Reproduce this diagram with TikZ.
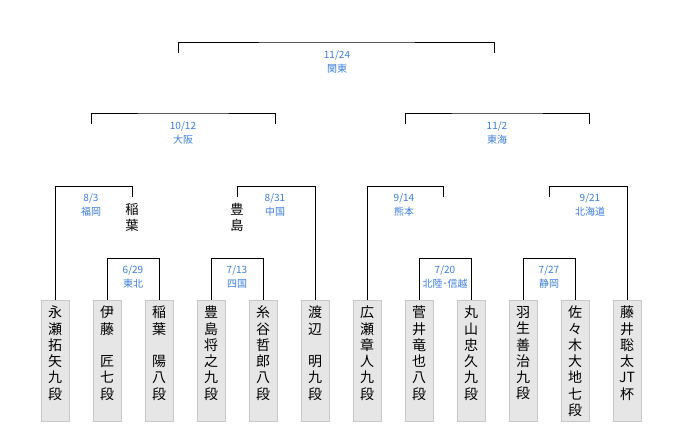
\documentclass[tikz,border=0pt]{standalone}
\usepackage{fontspec}
\setmainfont{Noto Sans CJK JP}
\definecolor{lbl}{RGB}{60,125,220}
\definecolor{boxfill}{RGB}{230,230,230}
\definecolor{boxline}{RGB}{200,200,200}
\begin{document}
\begin{tikzpicture}[x=0.75pt,y=-0.75pt,
  player/.style={draw=boxline,fill=boxfill,minimum width=21pt,minimum height=90.75pt,anchor=north,inner sep=0pt,align=center,font=\fontsize{10.5}{12.2}\selectfont,text depth=0pt},
  lab/.style={text=lbl,font=\fontsize{7.5}{10}\selectfont,align=center,inner sep=0pt},
  win/.style={font=\fontsize{10}{12}\selectfont,align=center,inner sep=0pt},
  br/.style={draw=black,line width=0.75pt}]
\useasboundingbox (0,0) rectangle (680,430);
% players
\node[player] (p1) at (55,300) {永\\瀬\\拓\\矢\\九\\段\\~};
\node[player] (p2) at (107,300) {伊\\藤\\　\\匠\\七\\段\\~};
\node[player] (p3) at (159,300) {稲\\葉\\　\\陽\\八\\段\\~};
\node[player] (p4) at (211,300) {豊\\島\\将\\之\\九\\段\\~};
\node[player] (p5) at (263,300) {糸\\谷\\哲\\郎\\八\\段\\~};
\node[player] (p6) at (315,300) {渡\\辺\\　\\明\\九\\段\\~};
\node[player] (p7) at (367,300) {広\\瀬\\章\\人\\九\\段\\~};
\node[player] (p8) at (419,300) {菅\\井\\竜\\也\\八\\段\\~};
\node[player] (p9) at (471,300) {丸\\山\\忠\\久\\九\\段\\~};
\node[player] (p10) at (523,300) {羽\\生\\善\\治\\九\\段\\~};
\node[player] (p11) at (575,300) {佐\\々\\木\\大\\地\\七\\段};
\node[player] (p12) at (627,300) {藤\\井\\聡\\太\\JT\\杯\\~};
% round 1
\coordinate (a1) at (133,258);
\draw[br] (p2.north) |- (a1) -| (p3.north);
\node[lab] (l1) at (133,277) {6/29\\東北};
\coordinate (a2) at (237,258);
\draw[br] (p4.north) |- (a2) -| (p5.north);
\node[lab] (l2) at (237,277) {7/13\\四国};
\coordinate (a3) at (445,258);
\draw[br] (p8.north) |- (a3) -| (p9.north);
\node[lab] (l3) at (445,277) {7/20\\北陸･信越};
\coordinate (a4) at (549,258);
\draw[br] (p10.north) |- (a4) -| (p11.north);
\node[lab] (l4) at (549,277) {7/27\\静岡};
% round 2
\coordinate (b1) at (132,197);
\draw[br] (p1.north) |- (91,186) -| (b1);
\node[lab] (m1) at (91,205) {8/3\\福岡};
\node[win] (w1) at (132,217) {稲\\葉};
\coordinate (b2) at (237,197);
\draw[br] (b2) |- (275,186) -| (p6.north);
\node[lab] (m2) at (275,205) {8/31\\中国};
\node[win] (w2) at (237,217) {豊\\島};
\coordinate (b3) at (443,197);
\draw[br] (p7.north) |- (404,186) -| (b3);
\node[lab] (m3) at (404,205) {9/14\\熊本};
\coordinate (b4) at (549,197);
\draw[br] (b4) |- (590,186) -| (p12.north);
\node[lab] (m4) at (590,205) {9/21\\北海道};
% semis
\coordinate (c1) at (91,124); \coordinate (c2) at (275,124);
\draw[br] (c1) |- (183,113) -| (c2);
\node[lab] (s1) at (183,133) {10/12\\大阪};
\coordinate (c3) at (405,124); \coordinate (c4) at (589,124);
\draw[br] (c3) |- (497,113) -| (c4);
\node[lab] (s2) at (497,133) {11/2\\東海};
% final
\coordinate (d1) at (178,53); \coordinate (d2) at (494,53);
\draw[br] (d1) |- (337,42) -| (d2);
\node[lab] (f1) at (337,62) {11/24\\関東};
\end{tikzpicture}
\end{document}
